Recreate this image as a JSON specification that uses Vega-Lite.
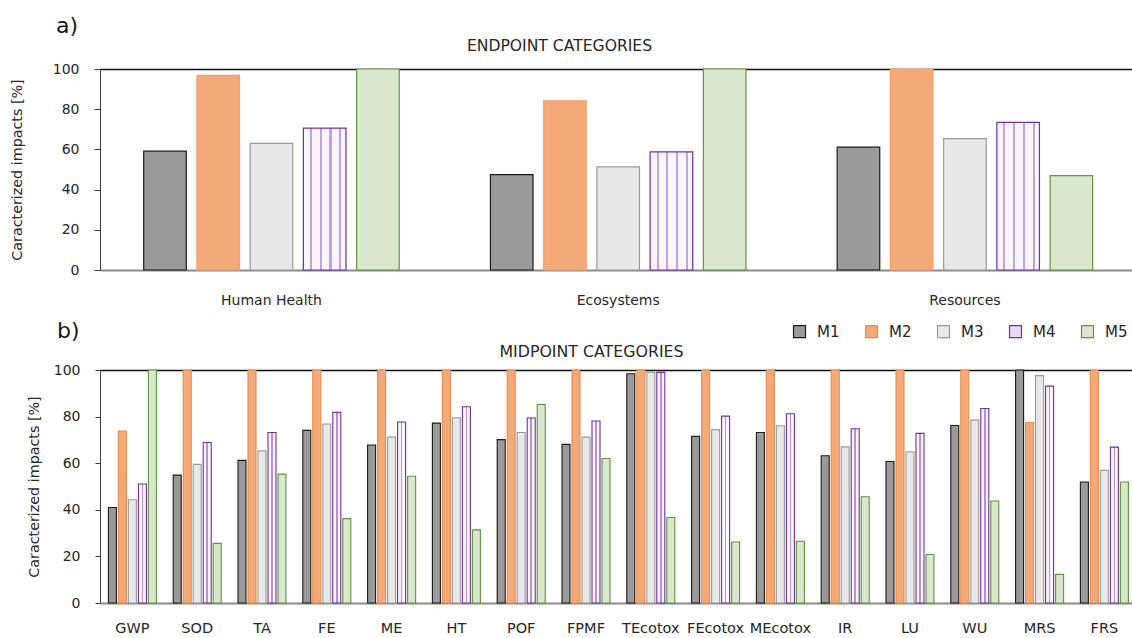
{
  "$schema": "https://vega.github.io/schema/vega-lite/v6.json",
  "background": "white",
  "padding": {"left": 10, "top": 15, "right": 0, "bottom": 0},
  "config": {
    "font": "DejaVu Sans",
    "view": {"stroke": null},
    "axis": {
      "labelFont": "DejaVu Sans",
      "titleFont": "DejaVu Sans",
      "labelFontSize": 14,
      "titleFontSize": 14.3,
      "labelColor": "#262626",
      "titleColor": "#262626",
      "titleFontWeight": "normal",
      "grid": false,
      "domainColor": "#3a3a3a",
      "tickColor": "#3a3a3a"
    },
    "title": {"font": "DejaVu Sans", "fontSize": 22, "fontWeight": "normal", "color": "#1a1a1a"}
  },
  "datasets": {
    "endpoint": [
      {"category": "Human Health", "method": "M1", "impact": 59.1},
      {"category": "Human Health", "method": "M2", "impact": 96.8},
      {"category": "Human Health", "method": "M3", "impact": 63.0},
      {"category": "Human Health", "method": "M4", "impact": 70.6},
      {"category": "Human Health", "method": "M5", "impact": 100},
      {"category": "Ecosystems", "method": "M1", "impact": 47.5},
      {"category": "Ecosystems", "method": "M2", "impact": 84.2},
      {"category": "Ecosystems", "method": "M3", "impact": 51.3},
      {"category": "Ecosystems", "method": "M4", "impact": 58.8},
      {"category": "Ecosystems", "method": "M5", "impact": 100},
      {"category": "Resources", "method": "M1", "impact": 61.1},
      {"category": "Resources", "method": "M2", "impact": 100},
      {"category": "Resources", "method": "M3", "impact": 65.4},
      {"category": "Resources", "method": "M4", "impact": 73.4},
      {"category": "Resources", "method": "M5", "impact": 47.0}
    ],
    "midpoint": [
      {"category": "GWP", "method": "M1", "impact": 41.0},
      {"category": "GWP", "method": "M2", "impact": 73.8},
      {"category": "GWP", "method": "M3", "impact": 44.3},
      {"category": "GWP", "method": "M4", "impact": 51.1},
      {"category": "GWP", "method": "M5", "impact": 100},
      {"category": "SOD", "method": "M1", "impact": 54.9},
      {"category": "SOD", "method": "M2", "impact": 100},
      {"category": "SOD", "method": "M3", "impact": 59.5},
      {"category": "SOD", "method": "M4", "impact": 68.9},
      {"category": "SOD", "method": "M5", "impact": 25.6},
      {"category": "TA", "method": "M1", "impact": 61.2},
      {"category": "TA", "method": "M2", "impact": 100},
      {"category": "TA", "method": "M3", "impact": 65.3},
      {"category": "TA", "method": "M4", "impact": 73.2},
      {"category": "TA", "method": "M5", "impact": 55.3},
      {"category": "FE", "method": "M1", "impact": 74.1},
      {"category": "FE", "method": "M2", "impact": 100},
      {"category": "FE", "method": "M3", "impact": 76.8},
      {"category": "FE", "method": "M4", "impact": 81.8},
      {"category": "FE", "method": "M5", "impact": 36.2},
      {"category": "ME", "method": "M1", "impact": 67.8},
      {"category": "ME", "method": "M2", "impact": 100},
      {"category": "ME", "method": "M3", "impact": 71.2},
      {"category": "ME", "method": "M4", "impact": 77.7},
      {"category": "ME", "method": "M5", "impact": 54.4},
      {"category": "HT", "method": "M1", "impact": 77.2},
      {"category": "HT", "method": "M2", "impact": 100},
      {"category": "HT", "method": "M3", "impact": 79.5},
      {"category": "HT", "method": "M4", "impact": 84.2},
      {"category": "HT", "method": "M5", "impact": 31.4},
      {"category": "POF", "method": "M1", "impact": 70.1},
      {"category": "POF", "method": "M2", "impact": 100},
      {"category": "POF", "method": "M3", "impact": 73.2},
      {"category": "POF", "method": "M4", "impact": 79.4},
      {"category": "POF", "method": "M5", "impact": 85.2},
      {"category": "FPMF", "method": "M1", "impact": 68.1},
      {"category": "FPMF", "method": "M2", "impact": 100},
      {"category": "FPMF", "method": "M3", "impact": 71.2},
      {"category": "FPMF", "method": "M4", "impact": 78.1},
      {"category": "FPMF", "method": "M5", "impact": 62.0},
      {"category": "TEcotox", "method": "M1", "impact": 98.4},
      {"category": "TEcotox", "method": "M2", "impact": 100},
      {"category": "TEcotox", "method": "M3", "impact": 98.9},
      {"category": "TEcotox", "method": "M4", "impact": 99.0},
      {"category": "TEcotox", "method": "M5", "impact": 36.7},
      {"category": "FEcotox", "method": "M1", "impact": 71.5},
      {"category": "FEcotox", "method": "M2", "impact": 100},
      {"category": "FEcotox", "method": "M3", "impact": 74.4},
      {"category": "FEcotox", "method": "M4", "impact": 80.2},
      {"category": "FEcotox", "method": "M5", "impact": 26.2},
      {"category": "MEcotox", "method": "M1", "impact": 73.2},
      {"category": "MEcotox", "method": "M2", "impact": 100},
      {"category": "MEcotox", "method": "M3", "impact": 76.1},
      {"category": "MEcotox", "method": "M4", "impact": 81.2},
      {"category": "MEcotox", "method": "M5", "impact": 26.5},
      {"category": "IR", "method": "M1", "impact": 63.2},
      {"category": "IR", "method": "M2", "impact": 100},
      {"category": "IR", "method": "M3", "impact": 67.0},
      {"category": "IR", "method": "M4", "impact": 74.8},
      {"category": "IR", "method": "M5", "impact": 45.6},
      {"category": "LU", "method": "M1", "impact": 60.7},
      {"category": "LU", "method": "M2", "impact": 100},
      {"category": "LU", "method": "M3", "impact": 64.9},
      {"category": "LU", "method": "M4", "impact": 72.8},
      {"category": "LU", "method": "M5", "impact": 20.8},
      {"category": "WU", "method": "M1", "impact": 76.2},
      {"category": "WU", "method": "M2", "impact": 100},
      {"category": "WU", "method": "M3", "impact": 78.5},
      {"category": "WU", "method": "M4", "impact": 83.5},
      {"category": "WU", "method": "M5", "impact": 43.8},
      {"category": "MRS", "method": "M1", "impact": 100},
      {"category": "MRS", "method": "M2", "impact": 77.5},
      {"category": "MRS", "method": "M3", "impact": 97.6},
      {"category": "MRS", "method": "M4", "impact": 93.1},
      {"category": "MRS", "method": "M5", "impact": 12.3},
      {"category": "FRS", "method": "M1", "impact": 51.9},
      {"category": "FRS", "method": "M2", "impact": 100},
      {"category": "FRS", "method": "M3", "impact": 56.9},
      {"category": "FRS", "method": "M4", "impact": 66.9},
      {"category": "FRS", "method": "M5", "impact": 51.9}
    ]
  },
  "spacing": 13,
  "resolve": {
    "scale": {"x": "independent", "y": "independent", "xOffset": "independent", "fill": "independent", "stroke": "independent"}
  },
  "vconcat": [
    {
      "width": 1034,
      "height": 201,
      "title": {"text": "a)", "anchor": "start", "frame": "group", "dx": -44, "offset": 0},
      "data": {"name": "endpoint"},
      "layer": [
        {
          "mark": {"type": "bar", "strokeWidth": 1.2},
          "encoding": {
            "x": {
              "field": "category", "type": "nominal",
              "sort": ["Human Health", "Ecosystems", "Resources"],
              "scale": {"paddingInner": 0.263, "paddingOuter": 0.1226, "align": 0.514},
              "axis": {"orient": "bottom", "title": null, "labelAngle": 0, "ticks": false, "labelPadding": 23, "labelFontSize": 14, "domainColor": "#8a8a8a", "domainWidth": 1.8}
            },
            "xOffset": {"field": "method", "type": "nominal", "scale": {"paddingInner": 0.2, "paddingOuter": 0}},
            "y": {
              "field": "impact", "type": "quantitative",
              "scale": {"domain": [0, 100]},
              "axis": {"title": "Caracterized impacts [%]", "values": [0, 20, 40, 60, 80, 100], "tickSize": 6, "labelPadding": 15, "titlePadding": 28}
            },
            "fill": {
              "condition": {
                "test": "datum.method === 'M4'",
                "value": {
                  "gradient": "linear", "x1": 0, "y1": 0, "x2": 1, "y2": 0,
                  "stops": [
                    {"offset": 0, "color": "#faf5fc"},
                    {"offset": 0.15, "color": "#faf5fc"},
                    {"offset": 0.15, "color": "#bfa4d6"},
                    {"offset": 0.2, "color": "#bfa4d6"},
                    {"offset": 0.2, "color": "#faf5fc"},
                    {"offset": 0.38, "color": "#faf5fc"},
                    {"offset": 0.38, "color": "#bfa4d6"},
                    {"offset": 0.43, "color": "#bfa4d6"},
                    {"offset": 0.43, "color": "#faf5fc"},
                    {"offset": 0.61, "color": "#faf5fc"},
                    {"offset": 0.61, "color": "#bfa4d6"},
                    {"offset": 0.66, "color": "#bfa4d6"},
                    {"offset": 0.66, "color": "#faf5fc"},
                    {"offset": 0.84, "color": "#faf5fc"},
                    {"offset": 0.84, "color": "#bfa4d6"},
                    {"offset": 0.89, "color": "#bfa4d6"},
                    {"offset": 0.89, "color": "#faf5fc"},
                    {"offset": 1, "color": "#faf5fc"}
                  ]
                }
              },
              "field": "method", "type": "nominal",
              "scale": {"domain": ["M1", "M2", "M3", "M4", "M5"], "range": ["#9a9a9a", "#f3aa78", "#e8e8e8", "#eadcf0", "#d9e7cd"]},
              "legend": null
            },
            "stroke": {
              "field": "method", "type": "nominal",
              "scale": {"domain": ["M1", "M2", "M3", "M4", "M5"], "range": ["#1a1a1a", "#f2a070", "#9a9a9a", "#7030a0", "#5f9441"]},
              "legend": null
            }
          }
        },
        {
          "mark": {"type": "bar", "opacity": 0},
          "encoding": {
            "x": {
              "field": "category", "type": "nominal",
              "sort": ["Human Health", "Ecosystems", "Resources"],
              "axis": {"orient": "top", "title": "ENDPOINT CATEGORIES", "labels": false, "ticks": false, "domainColor": "#111111", "domainWidth": 1.3, "titleX": 459, "titlePadding": 16, "titleFontSize": 15.6}
            }
          }
        }
      ],
      "resolve": {"axis": {"x": "independent"}}
    },
    {
      "width": 1034,
      "height": 233,
      "title": {"text": "b)", "anchor": "start", "frame": "group", "dx": -43, "offset": -19},
      "data": {"name": "midpoint"},
      "layer": [
        {
          "mark": {"type": "bar", "strokeWidth": 1.1},
          "encoding": {
            "x": {
              "field": "category", "type": "nominal",
              "sort": ["GWP", "SOD", "TA", "FE", "ME", "HT", "POF", "FPMF", "TEcotox", "FEcotox", "MEcotox", "IR", "LU", "WU", "MRS", "FRS"],
              "scale": {"paddingInner": 0.259, "paddingOuter": 0.108, "align": 0.6},
              "axis": {"orient": "bottom", "title": null, "labelAngle": 0, "ticks": false, "labelPadding": 18, "labelFontSize": 14.5, "domainColor": "#8a8a8a", "domainWidth": 1.8}
            },
            "xOffset": {"field": "method", "type": "nominal", "scale": {"paddingInner": 0.2, "paddingOuter": 0}},
            "y": {
              "field": "impact", "type": "quantitative",
              "scale": {"domain": [0, 100]},
              "axis": {"title": "Caracterized impacts [%]", "values": [0, 20, 40, 60, 80, 100], "tickSize": 5, "labelPadding": 15, "titlePadding": 12}
            },
            "fill": {
              "condition": {
                "test": "datum.method === 'M4'",
                "value": {
                  "gradient": "linear", "x1": 0, "y1": 0, "x2": 1, "y2": 0,
                  "stops": [
                    {"offset": 0, "color": "#faf5fc"},
                    {"offset": 0.4, "color": "#faf5fc"},
                    {"offset": 0.4, "color": "#b493cf"},
                    {"offset": 0.6, "color": "#b493cf"},
                    {"offset": 0.6, "color": "#faf5fc"},
                    {"offset": 1, "color": "#faf5fc"}
                  ]
                }
              },
              "field": "method", "type": "nominal",
              "scale": {"domain": ["M1", "M2", "M3", "M4", "M5"], "range": ["#9a9a9a", "#f3aa78", "#e8e8e8", "#eadcf0", "#d9e7cd"]},
              "legend": {"orient": "none", "legendX": 692, "legendY": -46, "direction": "horizontal", "title": null, "symbolType": "square", "symbolSize": 144, "symbolStrokeWidth": 1.2, "labelFontSize": 15, "labelFont": "DejaVu Sans", "labelColor": "#262626", "labelOffset": 10, "columnPadding": 23}
            },
            "stroke": {
              "field": "method", "type": "nominal",
              "scale": {"domain": ["M1", "M2", "M3", "M4", "M5"], "range": ["#1a1a1a", "#e98a4a", "#9a9a9a", "#7030a0", "#5f9441"]},
              "legend": {"orient": "none", "legendX": 692, "legendY": -46, "direction": "horizontal", "title": null, "symbolType": "square", "symbolSize": 144, "symbolStrokeWidth": 1.2, "labelFontSize": 15, "labelFont": "DejaVu Sans", "labelColor": "#262626", "labelOffset": 10, "columnPadding": 23}
            }
          }
        },
        {
          "mark": {"type": "bar", "opacity": 0},
          "encoding": {
            "x": {
              "field": "category", "type": "nominal",
              "sort": ["GWP", "SOD", "TA", "FE", "ME", "HT", "POF", "FPMF", "TEcotox", "FEcotox", "MEcotox", "IR", "LU", "WU", "MRS", "FRS"],
              "axis": {"orient": "top", "title": "MIDPOINT CATEGORIES", "labels": false, "ticks": false, "domainColor": "#111111", "domainWidth": 1.3, "titleX": 491, "titlePadding": 11, "titleFontSize": 15.8}
            }
          }
        }
      ],
      "resolve": {"axis": {"x": "independent"}}
    }
  ]
}
